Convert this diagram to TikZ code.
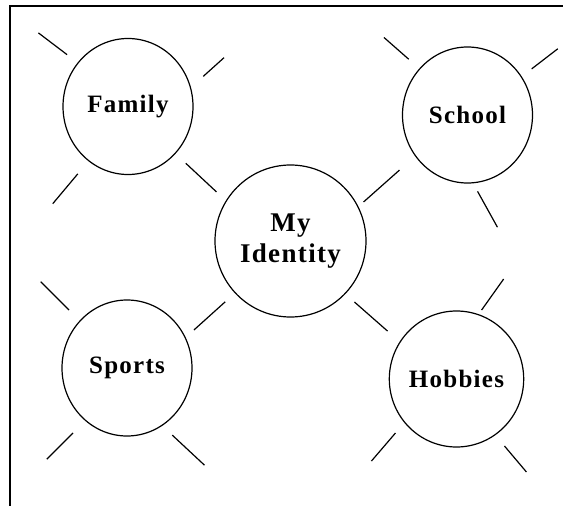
\documentclass[tikz,border=0pt]{standalone}
\usepackage{fontspec}
\setmainfont{Liberation Serif}
\usetikzlibrary{shapes.geometric}
\begin{document}
\begin{tikzpicture}[x=1pt, y=1pt,
        topic/.style={draw, ellipse, line width=1.2pt, inner sep=0pt,
          minimum width=130pt, minimum height=136pt,
          font=\bfseries\fontsize{25}{30}\selectfont\addfontfeature{LetterSpace=5}},
        ray/.style={line width=1.2pt}
        ]
        \useasboundingbox (0,0) rectangle (563,-506);
        \draw[line width=2pt] (10,-510) |- (566,-6);

        \node[topic, minimum width=151pt, minimum height=152pt, align=center,
          font=\bfseries\fontsize{27}{31}\selectfont\addfontfeature{LetterSpace=5}] (id) at (290.5,-241) {My\\Identity};
        \node[topic] (fam) at (128,-106.5) {Family};
        \node[topic] (sch) at (467.5,-115) {School};
        \node[topic] (spo) at (127,-368) {Sports};
        \node[topic] (hob) at (456.5,-379) {Hobbies};

        \foreach \a/\r/\d/\l in {139.6/80/142.8/36, 21.8/81/42/28, -126.7/84/-130/39, -44.5/81/-43/42}
          \draw[ray] (fam.center) ++(\a:\r) -- ++(\d:\l);
        \foreach \a/\r/\d/\l in {136.5/81/138.7/33, 35.7/79/37.6/33, -141/87.5/-138.4/48, -82.5/77/-61/41}
          \draw[ray] (sch.center) ++(\a:\r) -- ++(\d:\l);
        \foreach \a/\r/\d/\l in {135/82/135/40, 29.6/77/42/42, -129.7/84.5/-135/37, -56/81/-43/44}
          \draw[ray] (spo.center) ++(\a:\r) -- ++(\d:\l);
        \foreach \a/\r/\d/\l in {145.2/84/138.7/44, 70/73.4/54.6/38, -138.5/81.5/-130.6/37, -54.4/82.4/-49.8/34}
          \draw[ray] (hob.center) ++(\a:\r) -- ++(\d:\l);
      \end{tikzpicture}
\end{document}
